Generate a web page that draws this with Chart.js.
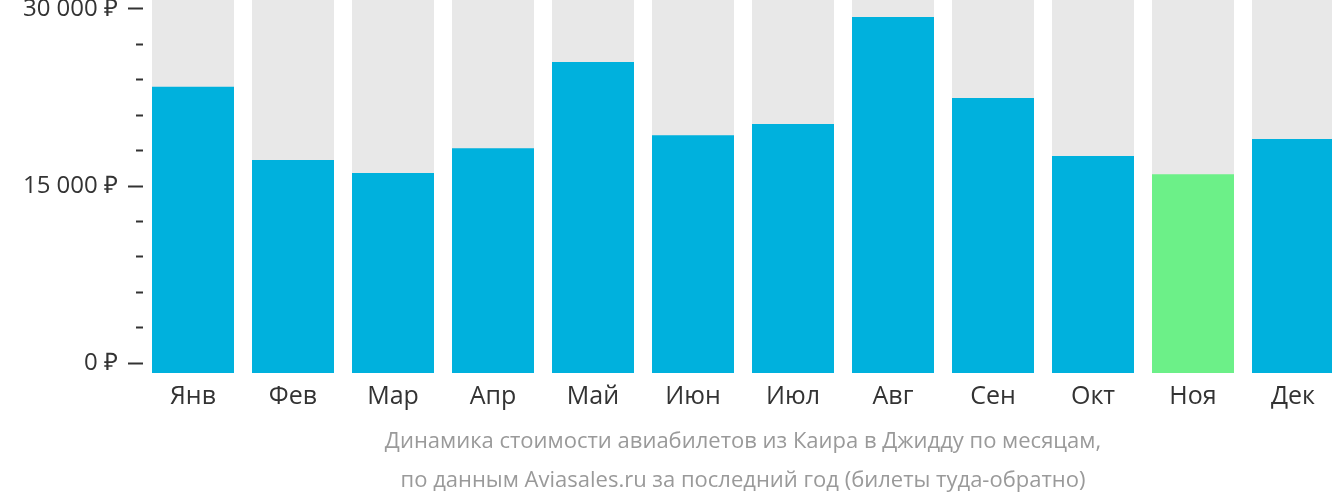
<!DOCTYPE html>
<html>
<head>
<meta charset="utf-8">
<script src="https://cdn.jsdelivr.net/npm/chart.js@4"></script>
<style>
  html, body { margin: 0; padding: 0; overflow: hidden; background: #fff; }
  #wrap { width: 1343px; height: 502px; position: relative; }
</style>
</head>
<body>
<div id="wrap"><canvas id="priceChart"></canvas></div>
<script>
// monthly prices, rub (round trip)
const months = ['Янв', 'Фев', 'Мар', 'Апр', 'Май', 'Июн', 'Июл', 'Авг', 'Сен', 'Окт', 'Ноя', 'Дек'];
const prices = [23400, 17200, 16100, 18200, 25500, 19300, 20250, 29300, 22450, 17550, 16000, 18980];
const cheapestIndex = 10; // Ноя
const labelTicks = [0, 15000, 30000];
const tickStep = 3000;
const titleLines = [
    'Динамика стоимости авиабилетов из Каира в Джидду по месяцам,',
    'по данным Aviasales.ru за последний год (билеты туда-обратно)'
];

const yMin = -820;
const yMax = 30740;

function rub(v) {
    return String(v).replace(/\B(?=(\d{3})+(?!\d))/g, ' ') + ' ₽';
}

const ctx = document.getElementById('priceChart').getContext('2d');
const chart = new Chart(ctx, {
    type: 'bar',
    data: {
        labels: months,
        datasets: [
            {
                label: 'price',
                data: prices,
                backgroundColor: prices.map((p, i) => i === cheapestIndex ? '#6cf088' : '#00b1dd'),
                base: yMin,
                order: 1
            },
            {
                label: 'bg',
                data: months.map(() => yMax),
                backgroundColor: '#e8e8e8',
                base: yMin,
                order: 2
            }
        ]
    },
    options: {
        responsive: true,
        maintainAspectRatio: false,
        animation: false,
        layout: { padding: 0 },
        datasets: {
            bar: {
                grouped: false,
                barPercentage: 0.82,
                categoryPercentage: 1.0,
                borderWidth: 0
            }
        },
        scales: {
            x: {
                grid: { display: false, drawTicks: false, tickLength: 0 },
                border: { display: false },
                ticks: {
                    padding: 9,
                    color: '#333',
                    font: { family: '"Open Sans", sans-serif', size: 25 }
                }
            },
            y: {
                min: yMin,
                max: yMax,
                border: { display: false },
                grid: {
                    drawOnChartArea: false,
                    drawTicks: true,
                    tickLength: 15,
                    tickWidth: 2,
                    tickColor: '#333',
                    // short marks for the in-between steps
                    tickBorderDash: function(c) {
                        return labelTicks.includes(c.tick.value) ? [] : [0, 8, 7, 30];
                    }
                },
                afterBuildTicks: function(scale) {
                    const ticks = [];
                    const last = labelTicks[labelTicks.length - 1];
                    for (let v = labelTicks[0]; v <= last; v += tickStep) {
                        ticks.push({ value: v });
                    }
                    scale.ticks = ticks;
                },
                ticks: {
                    autoSkip: false,
                    padding: 10,
                    color: '#333',
                    font: { family: '"Open Sans", sans-serif', size: 24 },
                    callback: function(value) {
                        return labelTicks.includes(value) ? rub(value) : '';
                    }
                },
                afterFit: function(scale) {
                    scale.width = 143;
                    scale.paddingTop = 0;
                    scale.paddingBottom = 0;
                }
            }
        },
        plugins: {
            legend: { display: false },
            tooltip: { enabled: false },
            title: {
                display: true,
                position: 'bottom',
                fullSize: false,
                text: titleLines,
                color: '#9a9a9a',
                font: { family: '"Open Sans", sans-serif', size: 22, weight: 'normal', lineHeight: '39px' },
                padding: { top: 1, bottom: 2 }
            }
        }
    }
});
</script>
</body>
</html>
